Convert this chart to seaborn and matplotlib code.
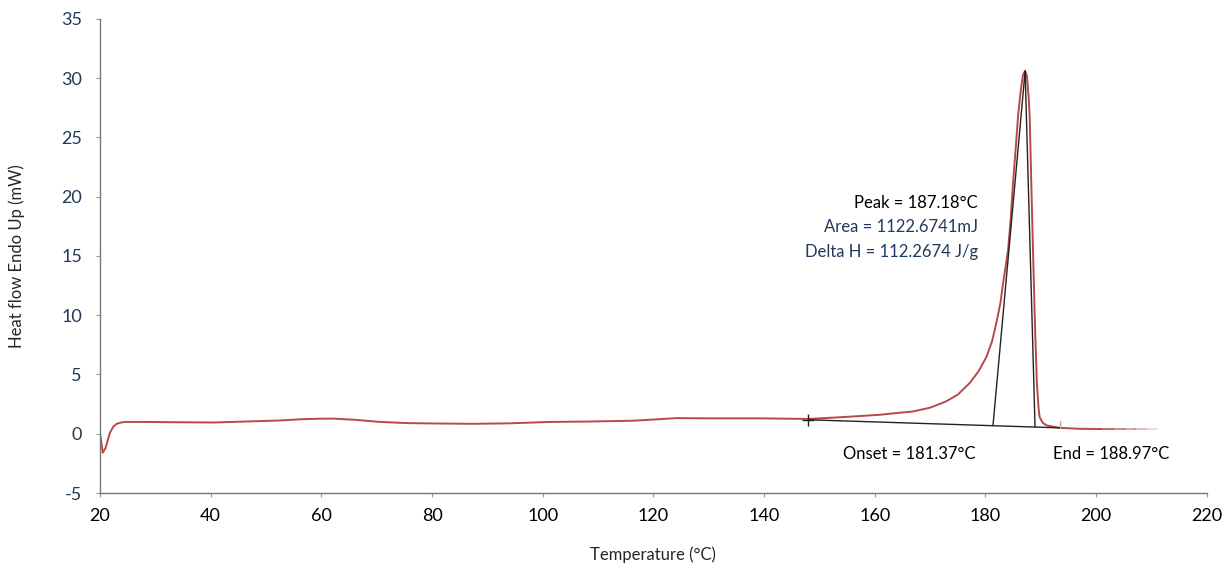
"""DSC thermogram: heat flow vs temperature with melting peak analysis."""

import pandas as pd
import matplotlib.pyplot as plt
import seaborn as sns

# curve
temp = [20.0, 20.5, 21.0, 21.8, 22.4, 23.0, 24.0, 24.8, 28.0, 32.0, 40.5, 46.0, 52.5, 56.1,
        59.7, 62.1, 66.0, 70.6, 75.5, 80.0, 87.4, 94.0, 101.3, 108.0, 116.3, 120.0, 124.2,
        130.0, 139.2, 148.0, 154.0, 160.9, 164.0, 166.9, 170.0, 172.9, 175.0, 177.2, 178.8,
        180.2, 181.2, 182.0, 182.7, 183.2, 184.1, 184.6, 185.0, 185.5, 185.9, 186.4, 186.8,
        187.18, 187.5, 187.8, 188.0, 188.3, 188.6, 189.0, 189.3, 189.6, 189.8, 190.4, 191.1,
        193.4, 197.0, 201.0]
heat_flow = [0.05, -1.6, -1.2, 0.1, 0.6, 0.84, 0.97, 1.0, 1.0, 0.98, 0.95, 1.03, 1.12, 1.22,
             1.27, 1.28, 1.18, 1.0, 0.9, 0.87, 0.84, 0.88, 1.0, 1.03, 1.1, 1.2, 1.32,
             1.3, 1.3, 1.25, 1.4, 1.6, 1.75, 1.88, 2.2, 2.73, 3.3, 4.3, 5.3,
             6.5, 7.8, 9.4, 11.0, 12.7, 15.5, 18.3, 21.2, 24.2, 26.8, 29.0, 30.3,
             30.6, 30.2, 28.5, 26.8, 21.0, 15.5, 8.5, 4.3, 2.2, 1.4, 0.9, 0.7,
             0.5, 0.42, 0.4]
tail_temp = [201.0, 203.0, 205.0, 207.0, 209.0, 211.0]
tail_flow = [0.4, 0.4, 0.4, 0.4, 0.4, 0.4]

# analysis construction lines
baseline_t = [148.0, 193.4]
baseline_y = [1.18, 0.5]
onset_t = [181.37, 187.18]
onset_y = [0.68, 30.6]
end_t = [188.97, 187.18]
end_y = [0.57, 30.6]

x_ticks = [20, 40, 60, 80, 100, 120, 140, 160, 180, 200, 220]
y_ticks = [-5, 0, 5, 10, 15, 20, 25, 30, 35]

RED = "#b8484a"
NAVY = "#1f3a5a"

sns.set_theme(style="white")
plt.rcParams['font.family'] = ['Lato', 'DejaVu Sans']
plt.rcParams['axes.unicode_minus'] = False

fig = plt.figure(figsize=(12.27, 5.70), dpi=100)
ax = fig.add_axes([0.0815, 0.135, 0.902, 0.832])

df = pd.DataFrame({"Temperature": temp, "Heat flow": heat_flow})
sns.lineplot(data=df, x="Temperature", y="Heat flow", ax=ax, color=RED, linewidth=1.4,
             sort=False, estimator=None)
# fading tail
for i in range(len(tail_temp) - 1):
    ax.plot(tail_temp[i:i + 2], tail_flow[i:i + 2], color=RED, linewidth=1.4,
            alpha=0.8 - 0.15 * i)

ax.plot(baseline_t, baseline_y, color="#222222", linewidth=1.0)
ax.plot(onset_t, onset_y, color="#222222", linewidth=1.0)
ax.plot(end_t, end_y, color="#222222", linewidth=1.0)
ax.plot([baseline_t[0]], [baseline_y[0]], marker="+", color="#222222", markersize=9, mew=1.0)
ax.plot([baseline_t[1], baseline_t[1]], [baseline_y[1], baseline_y[1] + 0.6], color="#aaaaaa",
        linewidth=1.0)

ax.text(178.6, 19.5, "Peak = 187.18°C", ha="right", va="center", fontsize=12, color="black")
ax.text(178.6, 17.4, "Area = 1122.6741mJ", ha="right", va="center", fontsize=12, color=NAVY)
ax.text(178.6, 15.3, "Delta H = 112.2674 J/g", ha="right", va="center", fontsize=12, color=NAVY)
ax.text(166.3, -1.7, "Onset = 181.37°C", ha="center", va="center", fontsize=12, color="black")
ax.text(202.7, -1.7, "End = 188.97°C", ha="center", va="center", fontsize=12, color="black")

ax.set_xlim(20, 220)
ax.set_ylim(-5, 35)
ax.set_xticks(x_ticks)
ax.set_yticks(y_ticks)
ax.tick_params(axis="x", labelsize=13, labelcolor="black", length=3, width=0.8,
               color="#999999", direction="out", bottom=True, pad=8)
ax.tick_params(axis="y", labelsize=13, labelcolor=NAVY, length=3, width=0.8,
               color="#999999", direction="out", left=True, pad=10)
for side in ["top", "right"]:
    ax.spines[side].set_visible(False)
for side in ["left", "bottom"]:
    ax.spines[side].set_color("#777777")
    ax.spines[side].set_linewidth(1.0)

ax.set_xlabel("Temperature (°C)", fontsize=12, labelpad=16)
ax.set_ylabel("Heat flow Endo Up (mW)", fontsize=12, labelpad=26)

fig.savefig("out.png", dpi=100)
